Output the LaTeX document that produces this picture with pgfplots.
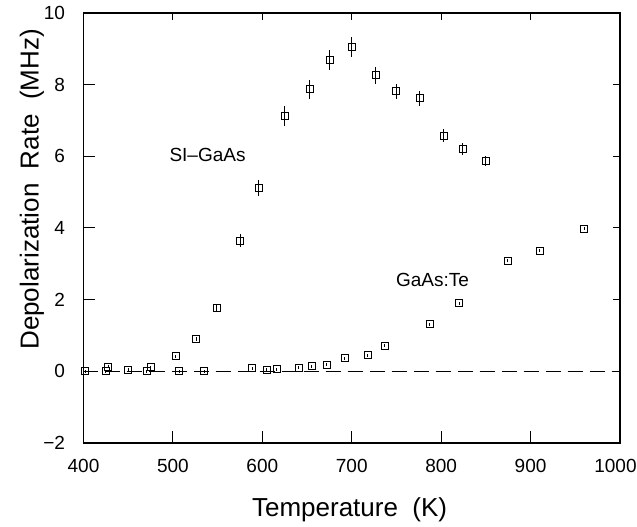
\documentclass[border=0pt]{standalone}
\usepackage{pgfplots}
\pgfplotsset{compat=1.18}
\usepackage{fontspec}
\setmainfont{Liberation Sans}
\usetikzlibrary{calc}

\begin{document}
\begin{tikzpicture}
\begin{axis}[
  name=main,
  scale only axis, width=536.5pt, height=430pt,
  xmin=400, xmax=1000, ymin=-2, ymax=10,
  xtick={400,500,...,1000}, ytick={-2,0,...,10},
  xticklabels={400,500,600,700,800,900,\makebox[0pt][c]{\hspace*{-9pt}1000}},
  yticklabels={−2,0,2,4,6,8,10},
  tick align=inside, tick pos=left, major tick length=12pt,
  axis line style={line width=1.2pt},
  every tick/.style={black, line width=1pt},
  ticklabel style={font=\fontsize{19}{22}\selectfont},
  xticklabel style={yshift=-13pt},
  yticklabel style={xshift=-15pt},
  xlabel={Temperature\ \ (K)},
  ylabel={Depolarization\ \ Rate\ \ (MHz)},
  every axis x label/.style={at={(axis description cs:0.496,-0.156)}, anchor=center, font=\fontsize{26}{30}\selectfont},
  every axis y label/.style={at={(axis description cs:-0.096,0.59)}, rotate=90, anchor=center, font=\fontsize{26}{30}\selectfont},
  clip=false,
]
\addplot[black, line width=1pt, dash pattern=on 15pt off 7pt] coordinates {(400,0) (1000,0)};

% SI-GaAs
\addplot[black, only marks, mark=square, mark size=3.5pt, mark options={line width=1pt},
  error bars/.cd, y dir=both, y explicit, error mark=none,
  error bar style={line width=1pt}]
  table[x=x, y=y, y error=e] {
x y e
402 0.00 0.04
427.6 0.13 0.04
450 0.04 0.04
475 0.12 0.04
503 0.42 0.04
526 0.90 0.05
549 1.77 0.08
575.5 3.65 0.18
596 5.11 0.23
625 7.12 0.28
653 7.87 0.27
675.5 8.69 0.28
700 9.06 0.28
727 8.26 0.23
750 7.81 0.21
776 7.62 0.21
803 6.58 0.19
824 6.21 0.16
850 5.87 0.15
};

% GaAs:Te
\addplot[black, only marks, mark=square, mark size=3.5pt, mark options={line width=1pt},
  error bars/.cd, y dir=both, y explicit, error mark=none,
  error bar style={line width=1pt}]
  table[x=x, y=y, y error=e] {
x y e
425 0.00 0.04
471 0.00 0.04
507 0.00 0.04
535 0.00 0.04
589 0.08 0.04
605 0.05 0.04
616 0.06 0.04
641 0.10 0.04
655 0.14 0.04
672 0.18 0.04
692 0.36 0.04
718 0.45 0.04
737 0.71 0.04
787.5 1.31 0.04
820 1.90 0.04
874.5 3.09 0.04
910 3.36 0.04
960 3.98 0.04
};

\node[anchor=west, inner sep=0pt, font=\fontsize{19}{22}\selectfont] at (axis cs:496,6.04) {SI–GaAs};
\node[anchor=west, inner sep=0pt, font=\fontsize{19}{22}\selectfont] at (axis cs:749.4,2.55) {GaAs:Te};
\end{axis}
\begin{axis}[
  scale only axis, width=536.5pt, height=430pt,
  xmin=400, xmax=1000, ymin=-2, ymax=10,
  xtick={400,500,...,1000}, ytick={-2,0,...,10},
  xticklabels={}, yticklabels={},
  tick align=inside, tick pos=right, major tick length=7pt,
  axis line style={line width=1.2pt},
  every tick/.style={black, line width=1pt},
]
\end{axis}
\pgfresetboundingbox
\path[use as bounding box] ($(main.south west)+(-83.5pt,-84pt)$) rectangle ($(main.north east)+(17pt,13pt)$);
\end{tikzpicture}
\end{document}
